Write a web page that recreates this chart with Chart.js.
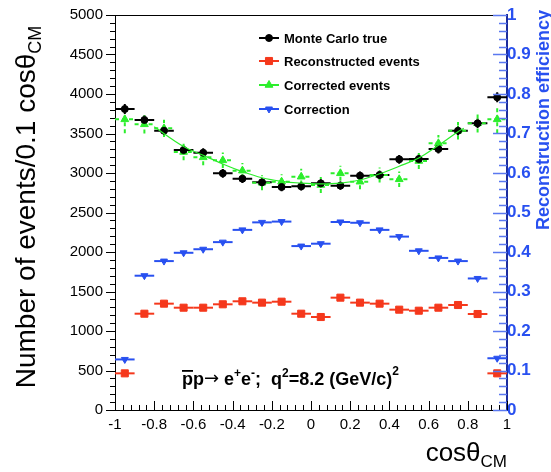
<!DOCTYPE html>
<html>
<head>
<meta charset="utf-8">
<script src="https://cdn.jsdelivr.net/npm/chart.js@4.4.0/dist/chart.umd.min.js"></script>
<style>
  body { margin: 0; background: #fff; }
  canvas { display: block; }
</style>
</head>
<body>
<canvas id="myChart" width="551" height="472"></canvas>
<script>
// data
const cosTheta = [-0.95, -0.85, -0.75, -0.65, -0.55, -0.45, -0.35, -0.25, -0.15, -0.05,
                  0.05, 0.15, 0.25, 0.35, 0.45, 0.55, 0.65, 0.75, 0.85, 0.95];
const binHalf = 0.05;
const mcTrue = [3810, 3671, 3535, 3291, 3257, 2996, 2928, 2882, 2823, 2831,
                2869, 2840, 2966, 2975, 3173, 3177, 3304, 3535, 3629, 3958];
const mcErr = [62, 60, 59, 57, 57, 55, 54, 54, 53, 53, 53, 53, 54, 54, 56, 56, 57, 59, 60, 63];
const recoEvents = [464, 1219, 1346, 1295, 1295, 1338, 1376, 1359, 1371, 1219,
                    1177, 1422, 1359, 1346, 1270, 1257, 1295, 1329, 1215, 464];
const corrEvents = [3679, 3616, 3565, 3266, 3198, 3160, 3030, 2877, 2890, 2953,
                    2848, 2996, 2890, 2975, 2920, 3152, 3376, 3535, 3629, 3679];
const corrErr = [175, 115, 110, 105, 100, 98, 96, 95, 95, 100, 100, 95, 95, 96, 98, 100, 105, 110, 115, 175];
const correction = [0.128, 0.340, 0.377, 0.398, 0.407, 0.425, 0.456, 0.475, 0.477, 0.415,
                    0.421, 0.476, 0.474, 0.456, 0.439, 0.403, 0.385, 0.377, 0.333, 0.131];
const fitX = [-0.8, -0.65, -0.55, -0.45, -0.35, -0.25, -0.15, -0.05, 0.05, 0.15, 0.25, 0.35, 0.45, 0.55, 0.65, 0.75, 0.78];
const fitY = [3586, 3335, 3225, 3114, 3017, 2940, 2895, 2872, 2862, 2872, 2911, 2990, 3085, 3190, 3350, 3523, 3565];
const legendLabels = ["Monte Carlo true", "Reconstructed events", "Corrected events", "Correction"];

const FONT = "'Liberation Sans', Arial, Helvetica, sans-serif";
const BLACK = "#000000", RED = "#f5381c", GREEN = "#2cee2c", BLUE = "#2850f0";
const NAVY = "#1c2c9c", LIGHTBLUE = "#5a78f0";

const pts = (xs, ys) => xs.map((x, i) => ({ x: x, y: ys[i] }));

const fmt = v => String(Math.round(v * 10) / 10);

const overlay = {
  id: "overlay",
  beforeDatasetsDraw(chart) {
    const ctx = chart.ctx;
    const xs = chart.scales.x;
    const series = [
      { v: mcTrue, e: mcErr, c: BLACK, ax: "y", dash: [] },
      { v: recoEvents, e: null, c: RED, ax: "y", dash: [] },
      { v: corrEvents, e: corrErr, c: GREEN, ax: "y", dash: [4, 3] },
      { v: correction, e: null, c: BLUE, ax: "y1", dash: [] }
    ];
    ctx.save();
    series.forEach(s => {
      const ys = chart.scales[s.ax];
      ctx.strokeStyle = s.c;
      ctx.lineWidth = 2;
      ctx.setLineDash(s.dash);
      cosTheta.forEach((x, i) => {
        const py = ys.getPixelForValue(s.v[i]);
        ctx.beginPath();
        ctx.moveTo(xs.getPixelForValue(x - binHalf), py);
        ctx.lineTo(xs.getPixelForValue(x + binHalf), py);
        if (s.e) {
          const px = xs.getPixelForValue(x);
          ctx.moveTo(px, ys.getPixelForValue(s.v[i] - s.e[i]));
          ctx.lineTo(px, ys.getPixelForValue(s.v[i] + s.e[i]));
        }
        ctx.stroke();
      });
    });
    ctx.restore();
  },
  afterDraw(chart) {
    const ctx = chart.ctx;
    const a = chart.chartArea;
    const xs = chart.scales.x, yl = chart.scales.y, yr = chart.scales.y1;
    ctx.save();
    ctx.setLineDash([]);

    // frame top line
    ctx.strokeStyle = BLACK;
    ctx.lineWidth = 1;
    ctx.beginPath();
    ctx.moveTo(a.left, a.top + 0.5);
    ctx.lineTo(a.right, a.top + 0.5);
    ctx.stroke();

    // left axis ticks (outside)
    ctx.beginPath();
    for (let v = 0; v <= 5000; v += 100) {
      const p = Math.round(yl.getPixelForValue(v)) + 0.5;
      const len = v % 500 === 0 ? 9 : 5;
      ctx.moveTo(a.left, p);
      ctx.lineTo(a.left - len, p);
    }
    // x axis ticks (inside)
    for (let k = 0; k <= 50; k++) {
      const v = -1 + k * 0.04;
      const p = Math.round(xs.getPixelForValue(v)) + 0.5;
      const len = k % 5 === 0 ? 9 : 5;
      ctx.moveTo(p, a.bottom);
      ctx.lineTo(p, a.bottom - len);
    }
    ctx.stroke();

    // right axis ticks
    ctx.strokeStyle = LIGHTBLUE;
    ctx.lineWidth = 1.5;
    ctx.beginPath();
    for (let k = 0; k <= 50; k++) {
      const p = Math.round(yr.getPixelForValue(k * 0.02)) + 0.5;
      const len = k % 5 === 0 ? 14 : 8;
      ctx.moveTo(a.right, p);
      ctx.lineTo(a.right - len, p);
    }
    ctx.stroke();

    // left title
    ctx.fillStyle = BLACK;
    ctx.save();
    ctx.translate(35, 207);
    ctx.rotate(-Math.PI / 2);
    const t1 = "Number of events/0.1 cos\u03B8";
    ctx.font = "28px " + FONT;
    const w1 = ctx.measureText(t1).width;
    ctx.font = "18px " + FONT;
    const w2 = ctx.measureText("CM").width;
    const start = -(w1 + w2) / 2;
    ctx.textBaseline = "alphabetic";
    ctx.textAlign = "left";
    ctx.font = "28px " + FONT;
    ctx.fillText(t1, start, 0);
    ctx.font = "18px " + FONT;
    ctx.fillText("CM", start + w1, 6);
    ctx.restore();

    // x title
    ctx.textAlign = "left";
    ctx.textBaseline = "alphabetic";
    ctx.font = "17px " + FONT;
    const wcm = ctx.measureText("CM").width;
    ctx.font = "26px " + FONT;
    const wcos = ctx.measureText("cos\u03B8").width;
    const xr = a.right;
    ctx.fillText("cos\u03B8", xr - wcm - wcos, 461);
    ctx.font = "17px " + FONT;
    ctx.fillText("CM", xr - wcm, 467);

    // right title
    ctx.save();
    ctx.fillStyle = BLUE;
    ctx.translate(549, 10);
    ctx.rotate(-Math.PI / 2);
    ctx.font = "bold 18px " + FONT;
    ctx.textAlign = "right";
    ctx.textBaseline = "alphabetic";
    ctx.fillText("Reconstruction efficiency", 0, 0);
    ctx.restore();

    // legend
    const lg = [
      { c: BLACK, s: "circle", r: 3.5, rot: 0 },
      { c: RED, s: "rect", r: 5, rot: 0 },
      { c: GREEN, s: "triangle", r: 4.5, rot: 0 },
      { c: BLUE, s: "triangle", r: 4, rot: 180 }
    ];
    const lgY = [38, 61, 85, 109];
    ctx.font = "bold 13px " + FONT;
    ctx.textAlign = "left";
    ctx.textBaseline = "middle";
    lg.forEach((m, i) => {
      const y = lgY[i];
      ctx.strokeStyle = m.c;
      ctx.fillStyle = m.c;
      ctx.lineWidth = 2;
      ctx.beginPath();
      ctx.moveTo(259, y);
      ctx.lineTo(279, y);
      ctx.stroke();
      ctx.lineWidth = 1;
      Chart.helpers.drawPoint(ctx, { pointStyle: m.s, radius: m.r, rotation: m.rot, borderWidth: 1 }, 269, y);
      ctx.fillStyle = BLACK;
      ctx.fillText(legendLabels[i], 284, y + 1);
    });

    // process annotation
    ctx.fillStyle = BLACK;
    ctx.textBaseline = "alphabetic";
    let x = 182;
    const base = 385;
    const big = "bold 18px " + FONT, small = "bold 12px " + FONT;
    const arrow = "18px 'DejaVu Sans', sans-serif";
    const parts = [
      ["p", big, 0, true], ["p", big, 0], ["\u2192", arrow, -1], [" e", big, 0], ["+", small, -8], ["e", big, 0], ["-", small, -8],
      [";  q", big, 0], ["2", small, -8], ["=8.2 (GeV/c)", big, 0], ["2", small, -10]
    ];
    parts.forEach(p => {
      ctx.font = p[1];
      const w = ctx.measureText(p[0]).width;
      ctx.fillText(p[0], x, base + p[2]);
      if (p[3]) {
        ctx.fillRect(x, base - 15, w, 1.8);
      }
      x += w;
    });
    ctx.restore();
  }
};

new Chart(document.getElementById("myChart"), {
  type: "scatter",
  data: {
    datasets: [
      {
        label: "fit",
        data: pts(fitX, fitY),
        showLine: true,
        borderColor: GREEN,
        borderWidth: 1.2,
        pointRadius: 0,
        tension: 0.4,
        yAxisID: "y"
      },
      {
        label: legendLabels[0],
        data: pts(cosTheta, mcTrue),
        pointStyle: "circle",
        pointRadius: 3.5,
        backgroundColor: BLACK,
        borderColor: BLACK,
        yAxisID: "y"
      },
      {
        label: legendLabels[1],
        data: pts(cosTheta, recoEvents),
        pointStyle: "rect",
        pointRadius: 5,
        backgroundColor: RED,
        borderColor: RED,
        yAxisID: "y"
      },
      {
        label: legendLabels[2],
        data: pts(cosTheta, corrEvents),
        pointStyle: "triangle",
        pointRadius: 4.5,
        backgroundColor: GREEN,
        borderColor: GREEN,
        yAxisID: "y"
      },
      {
        label: legendLabels[3],
        data: pts(cosTheta, correction),
        pointStyle: "triangle",
        rotation: 180,
        pointRadius: 4,
        backgroundColor: BLUE,
        borderColor: BLUE,
        yAxisID: "y1"
      }
    ]
  },
  options: {
    responsive: false,
    animation: false,
    layout: { padding: { top: 15, left: 0, right: 0, bottom: 0 } },
    plugins: { legend: { display: false }, tooltip: { enabled: false } },
    scales: {
      x: {
        type: "linear",
        min: -1,
        max: 1,
        grid: { display: false },
        border: { display: true, color: BLACK, width: 1 },
        ticks: {
          stepSize: 0.2,
          callback: fmt,
          color: BLACK,
          font: { size: 15, family: FONT },
          padding: -2,
          maxRotation: 0
        },
        afterFit: s => { s.height = 62; }
      },
      y: {
        position: "left",
        min: 0,
        max: 5000,
        grid: { display: false },
        border: { display: true, color: BLACK, width: 1 },
        ticks: {
          stepSize: 500,
          callback: v => String(v),
          color: BLACK,
          font: { size: 15, family: FONT },
          padding: 4
        },
        afterFit: s => { s.width = 115; }
      },
      y1: {
        position: "right",
        min: 0,
        max: 1,
        grid: { display: false },
        border: { display: true, color: NAVY, width: 2 },
        ticks: {
          stepSize: 0.1,
          callback: fmt,
          color: BLUE,
          font: { size: 17, family: FONT, weight: "bold" },
          padding: -8
        },
        afterFit: s => { s.width = 44; }
      }
    }
  },
  plugins: [overlay]
});
</script>
</body>
</html>
